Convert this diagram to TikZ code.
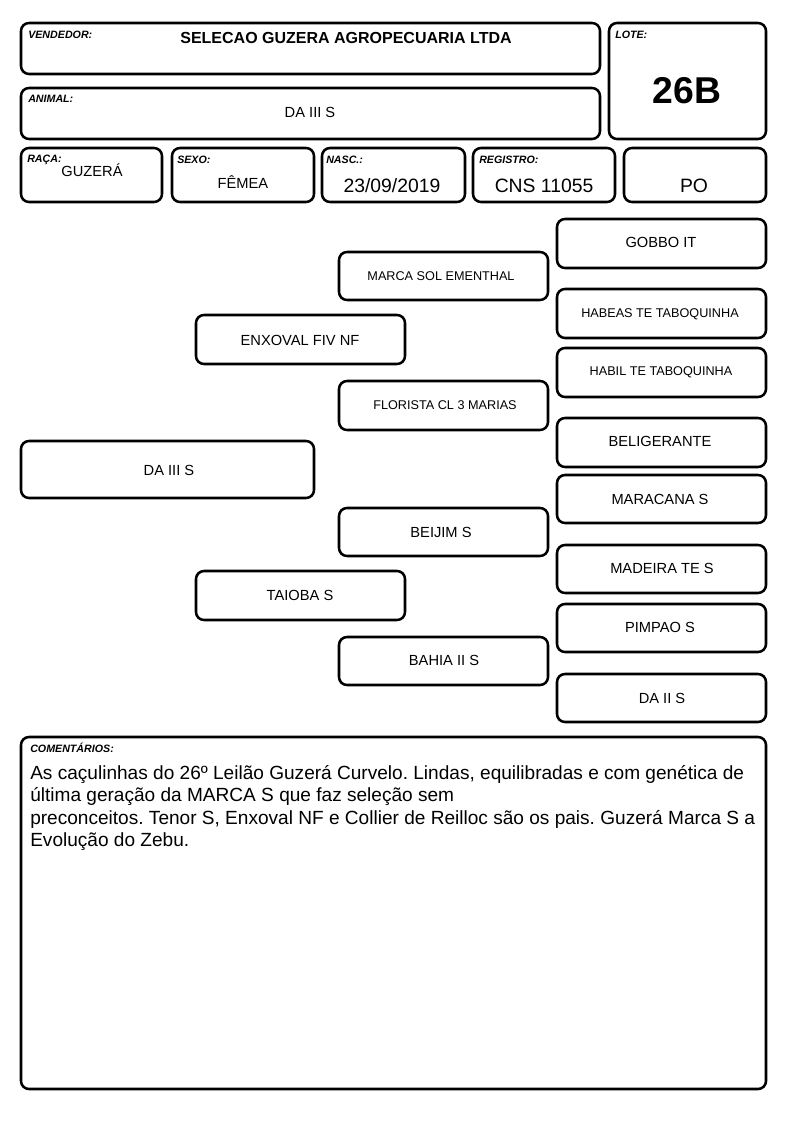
\documentclass[tikz,border=0pt]{standalone}
\usepackage{fontspec}
\setmainfont{Liberation Sans}
\usetikzlibrary{fit}
\frenchspacing
\begin{document}
\begin{tikzpicture}[x=0.75pt,y=-0.75pt,
  box/.style={draw=black, line width=1.9pt, rounded corners=6pt, inner sep=0pt},
  lbl/.style={anchor=base west, inner sep=0pt, font=\fontsize{8pt}{9pt}\selectfont\bfseries\itshape},
  val/.style={anchor=base, inner sep=0pt, font=\fontsize{11pt}{13pt}\selectfont},
  big/.style={anchor=base, inner sep=0pt, font=\fontsize{14.5pt}{16pt}\selectfont},
  pt/.style={inner sep=0pt, text height=7.9pt, text depth=0pt, font=\fontsize{11pt}{13pt}\selectfont},
  pts/.style={inner sep=0pt, text height=6.8pt, text depth=0pt, font=\fontsize{9.5pt}{11pt}\selectfont},
  com/.style={anchor=base west, inner sep=0pt, font=\fontsize{14.3pt}{17pt}\selectfont}
]
\useasboundingbox[fill=white] (0,0) rectangle (794,1123);

% header boxes
\node[box, fit={(21,23) (600,74)}] (vend) {};
\node[box, fit={(21,88) (600,139)}] (anim) {};
\node[box, fit={(609,23) (766,139)}] (lote) {};
\node[box, fit={(21,148) (162,202)}] (raca) {};
\node[box, fit={(172,148) (314,202)}] (sexo) {};
\node[box, fit={(322,148) (465,202)}] (nasc) {};
\node[box, fit={(473,148) (615,202)}] (reg) {};
\node[box, fit={(624,148) (766,202)}] (po) {};

\node[lbl] (lvend) at (28,39) {VENDEDOR:};
\node[lbl] (lanim) at (28,103) {ANIMAL:};
\node[lbl] (llote) at (615,39) {LOTE:};
\node[lbl] (lraca) at (27,163) {RAÇA:};
\node[lbl] (lsexo) at (177,164) {SEXO:};
\node[lbl] (lnasc) at (326,164) {NASC.:};
\node[lbl] (lreg) at (479,164) {REGISTRO:};

\node[anchor=base, inner sep=0pt, font=\fontsize{12pt}{14pt}\selectfont\bfseries] (vvend) at (346,43.7) {SELECAO GUZERA AGROPECUARIA LTDA};
\node[val] (vanim) at (310,118) {DA III S};
\node[anchor=base, inner sep=0pt, font=\fontsize{28pt}{32pt}\selectfont\bfseries] (vlote) at (687,104) {26B};
\node[val] (vraca) at (92,177) {GUZERÁ};
\node[val] (vsexo) at (243,189) {FÊMEA};
\node[big] (vnasc) at (392,193) {23/09/2019};
\node[big] (vreg) at (544,193) {CNS 11055};
\node[big] (vpo) at (694,193) {PO};

% pedigree boxes
\node[box, fit={(21,441) (314,498)}] (p0) {};
\node[box, fit={(196,315) (405,364)}] (p1) {};
\node[box, fit={(196,571) (405,620)}] (p2) {};
\node[box, fit={(339,252) (548,300)}] (p3) {};
\node[box, fit={(339,381) (548,430)}] (p4) {};
\node[box, fit={(339,508) (548,556)}] (p5) {};
\node[box, fit={(339,637) (548,685)}] (p6) {};
\node[box, fit={(557,219) (766,268)}] (p7) {};
\node[box, fit={(557,289) (766,338)}] (p8) {};
\node[box, fit={(557,348) (766,397)}] (p9) {};
\node[box, fit={(557,418) (766,467)}] (p10) {};
\node[box, fit={(557,475) (766,523)}] (p11) {};
\node[box, fit={(557,545) (766,593)}] (p12) {};
\node[box, fit={(557,604) (766,652)}] (p13) {};
\node[box, fit={(557,674) (766,722)}] (p14) {};

\node[pt] (t0) at (169,470) {DA III S};
\node[pt] (t1) at (300,340) {ENXOVAL FIV NF};
\node[pt] (t2) at (300,595) {TAIOBA S};
\node[pts] (t3) at (441,276) {MARCA SOL EMENTHAL};
\node[pts] (t4) at (445,405) {FLORISTA CL 3 MARIAS};
\node[pt] (t5) at (441,532) {BEIJIM S};
\node[pt] (t6) at (444,660) {BAHIA II S};
\node[pt] (t7) at (661,242) {GOBBO IT};
\node[pts] (t8) at (660,313) {HABEAS TE TABOQUINHA};
\node[pts] (t9) at (661,371) {HABIL TE TABOQUINHA};
\node[pt] (t10) at (660,441) {BELIGERANTE};
\node[pt] (t11) at (660,499) {MARACANA S};
\node[pt] (t12) at (662,568) {MADEIRA TE S};
\node[pt] (t13) at (660,627) {PIMPAO S};
\node[pt] (t14) at (662,698) {DA II S};

% comments
\node[box, fit={(21,737) (766,1089)}] (comb) {};
\node[lbl] (lcom) at (30,752) {COMENTÁRIOS:};
\node[com] (c1) at (30,779) {As caçulinhas do 26º Leilão Guzerá Curvelo. Lindas, equilibradas e com genética de};
\node[com] (c2) at (30,801) {última geração da MARCA S que faz seleção sem};
\node[com] (c3) at (30,824) {preconceitos. Tenor S, Enxoval NF e Collier de Reilloc são os pais. Guzerá Marca S a};
\node[com] (c4) at (30,846) {Evolução do Zebu.};
\end{tikzpicture}
\end{document}
